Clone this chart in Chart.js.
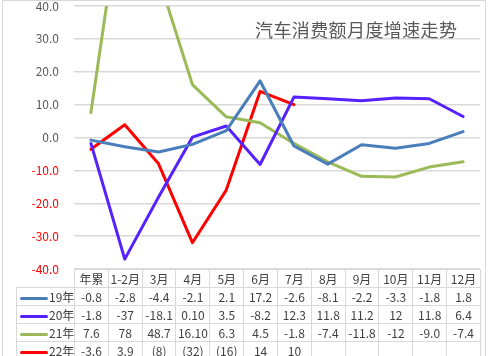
<!DOCTYPE html>
<html>
<head>
<meta charset="utf-8">
<script src="https://cdn.jsdelivr.net/npm/chart.js@4/dist/chart.umd.min.js"></script>
<style>
  html, body { margin:0; padding:0; background:#fff; }
  body { width:492px; height:356px; position:relative; overflow:hidden; font-family:"Noto Sans CJK SC","Noto Sans",sans-serif; }
  #frame { position:absolute; left:2px; top:0px; width:484px; height:400px; border:1px solid #d9d9d9; box-sizing:border-box; }
  #c { position:absolute; left:0; top:0; }
  #title { position:absolute; left:255px; top:20px; font-size:18px; line-height:18px; color:#595959; white-space:nowrap; letter-spacing:0.4px; }
  #tbl { position:absolute; border-collapse:collapse; table-layout:fixed; font-size:12px; color:#404040; }
  #tbl td { border:1px solid #d9d9d9; text-align:center; padding:0; height:17px; line-height:17px; white-space:nowrap; overflow:hidden; }
  #tbl td.blank { border:none; }
  #tbl td.leg { text-align:left; padding-left:3px; }
  .mk { display:inline-block; width:28px; height:3px; border-radius:2px; vertical-align:middle; margin-right:1px; }
</style>
</head>
<body>
<div id="frame"></div>
<canvas id="c" width="492" height="356"></canvas>
<div id="title">汽车消费额月度增速走势</div>
<table id="tbl"></table>
<script>
// ---- data ----
const categories = ['年累','1-2月','3月','4月','5月','6月','7月','8月','9月','10月','11月','12月'];
const seriesNames = ['19年','20年','21年','22年'];
const seriesColors = ['#4a7ebb','#5522ff','#9bbb59','#ff0000'];
const y19 = [-0.8, -2.8, -4.4, -2.1, 2.1, 17.2, -2.6, -8.1, -2.2, -3.3, -1.8, 1.8];
const y20 = [-1.8, -37, -18.1, 0.10, 3.5, -8.2, 12.3, 11.8, 11.2, 12, 11.8, 6.4];
const y21 = [7.6, 78, 48.7, 16.10, 6.3, 4.5, -1.8, -7.4, -11.8, -12, -9.0, -7.4];
const y22 = [-3.6, 3.9, -8, -32, -16, 14, 10];
// table display labels
const t19 = ['-0.8','-2.8','-4.4','-2.1','2.1','17.2','-2.6','-8.1','-2.2','-3.3','-1.8','1.8'];
const t20 = ['-1.8','-37','-18.1','0.10','3.5','-8.2','12.3','11.8','11.2','12','11.8','6.4'];
const t21 = ['7.6','78','48.7','16.10','6.3','4.5','-1.8','-7.4','-11.8','-12','-9.0','-7.4'];
const t22 = ['-3.6','3.9','(8)','(32)','(16)','14','10','','','','',''];
const yTicksMin = -40, yTicksMax = 40, yStep = 10;

const values = [y19, y20, y21, y22];
const tableText = [t19, t20, t21, t22];

const chart = new Chart(document.getElementById('c'), {
  type: 'line',
  data: {
    labels: categories,
    datasets: seriesNames.map((n, i) => ({
      label: n,
      data: values[i],
      borderColor: seriesColors[i],
      backgroundColor: seriesColors[i],
      borderWidth: 3,
      pointRadius: 0,
      tension: 0,
      borderJoinStyle: 'round',
      borderCapStyle: 'round',
      fill: false
    }))
  },
  options: {
    responsive: false,
    animation: false,
    layout: { padding: { top: 6, right: 12, bottom: 87, left: 0 } },
    plugins: { legend: { display: false }, tooltip: { enabled: false }, title: { display: false } },
    scales: {
      x: { type: 'category', display: false, offset: true },
      y: {
        min: yTicksMin, max: yTicksMax,
        afterFit(scale) { scale.width = 74; scale.paddingTop = 0; scale.paddingBottom = 0; },
        border: { display: false },
        grid: { color: '#d9d9d9', lineWidth: 1.5, drawTicks: false },
        ticks: {
          stepSize: yStep,
          padding: 15,
          font: { family: '"Noto Sans CJK SC","Noto Sans",sans-serif', size: 12 },
          color: (ctx) => ctx.tick.value < 0 ? '#ff0000' : '#595959',
          callback: (v) => Number(v).toFixed(1)
        }
      }
    }
  }
});

// ---- data table under the plot, aligned with the x scale ----
(function buildTable() {
  const ca = chart.chartArea;
  const legW = 58;
  const colW = (ca.right - ca.left) / categories.length;
  const tbl = document.getElementById('tbl');
  tbl.style.left = (ca.left - legW) + 'px';
  tbl.style.top = Math.round(ca.bottom) + 'px';
  tbl.style.width = (legW + colW * categories.length) + 'px';
  let html = '<colgroup><col style="width:' + legW + 'px">';
  categories.forEach(() => { html += '<col style="width:' + colW + 'px">'; });
  html += '</colgroup><tr><td class="blank"></td>';
  categories.forEach(c => { html += '<td>' + c + '</td>'; });
  html += '</tr>';
  seriesNames.forEach((n, i) => {
    html += '<tr><td class="leg"><span class="mk" style="background:' + seriesColors[i] + '"></span>' + n + '</td>';
    tableText[i].forEach(t => { html += '<td>' + t + '</td>'; });
    html += '</tr>';
  });
  tbl.innerHTML = html;
})();
</script>
</body>
</html>
